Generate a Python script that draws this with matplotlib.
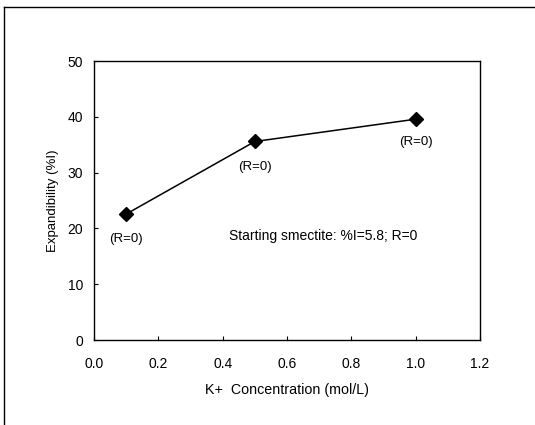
import matplotlib
matplotlib.use("Agg")
import matplotlib.pyplot as plt
from matplotlib.lines import Line2D

plt.rcParams['font.family'] = ['Liberation Sans', 'DejaVu Sans']

conc = [0.1, 0.5, 1.0]
expandability = [22.6, 35.6, 39.6]
point_labels = ["(R=0)", "(R=0)", "(R=0)"]
label_offsets = [(0, -14), (0, -14), (0, -12)]
xticks = [0.0, 0.2, 0.4, 0.6, 0.8, 1.0, 1.2]
yticks = [0, 10, 20, 30, 40, 50]

fig = plt.figure(figsize=(5.35, 4.25), dpi=100)
ax = fig.add_axes([0.176, 0.2, 0.721, 0.656])

ax.plot(conc, expandability, color='black', lw=1.1, marker='D', ms=7,
        mfc='black', mec='black')
for x, y, lab, off in zip(conc, expandability, point_labels, label_offsets):
    ax.annotate(lab, (x, y), xytext=off, textcoords='offset points',
                ha='center', va='top', fontsize=9.5)

ax.text(0.712, 18.6, "Starting smectite: %I=5.8; R=0", ha='center', va='center',
        fontsize=10)

ax.set_xlim(0, 1.2)
ax.set_ylim(0, 50)
ax.set_xticks(xticks)
ax.set_yticks(yticks)
ax.set_xticklabels([f"{t:.1f}" for t in xticks])
ax.set_yticklabels([str(t) for t in yticks])
ax.tick_params(direction='in', length=3, width=0.8, labelsize=10)
ax.tick_params(axis='x', pad=12)
ax.tick_params(axis='y', pad=8)
ax.set_xlabel("K+  Concentration (mol/L)", fontsize=10.3, labelpad=9)
ax.set_ylabel("Expandibility (%I)", fontsize=9.5, labelpad=6)
for s in ax.spines.values():
    s.set_linewidth(1.0)

# outer frame lines (left and top)
fig.add_artist(Line2D([4/535, 4/535], [0.0, 1 - 7/425], transform=fig.transFigure,
                      color='black', lw=1.0))
fig.add_artist(Line2D([4/535, 1.0], [1 - 7/425, 1 - 7/425], transform=fig.transFigure,
                      color='black', lw=1.0))

fig.savefig("out.png", dpi=100)
